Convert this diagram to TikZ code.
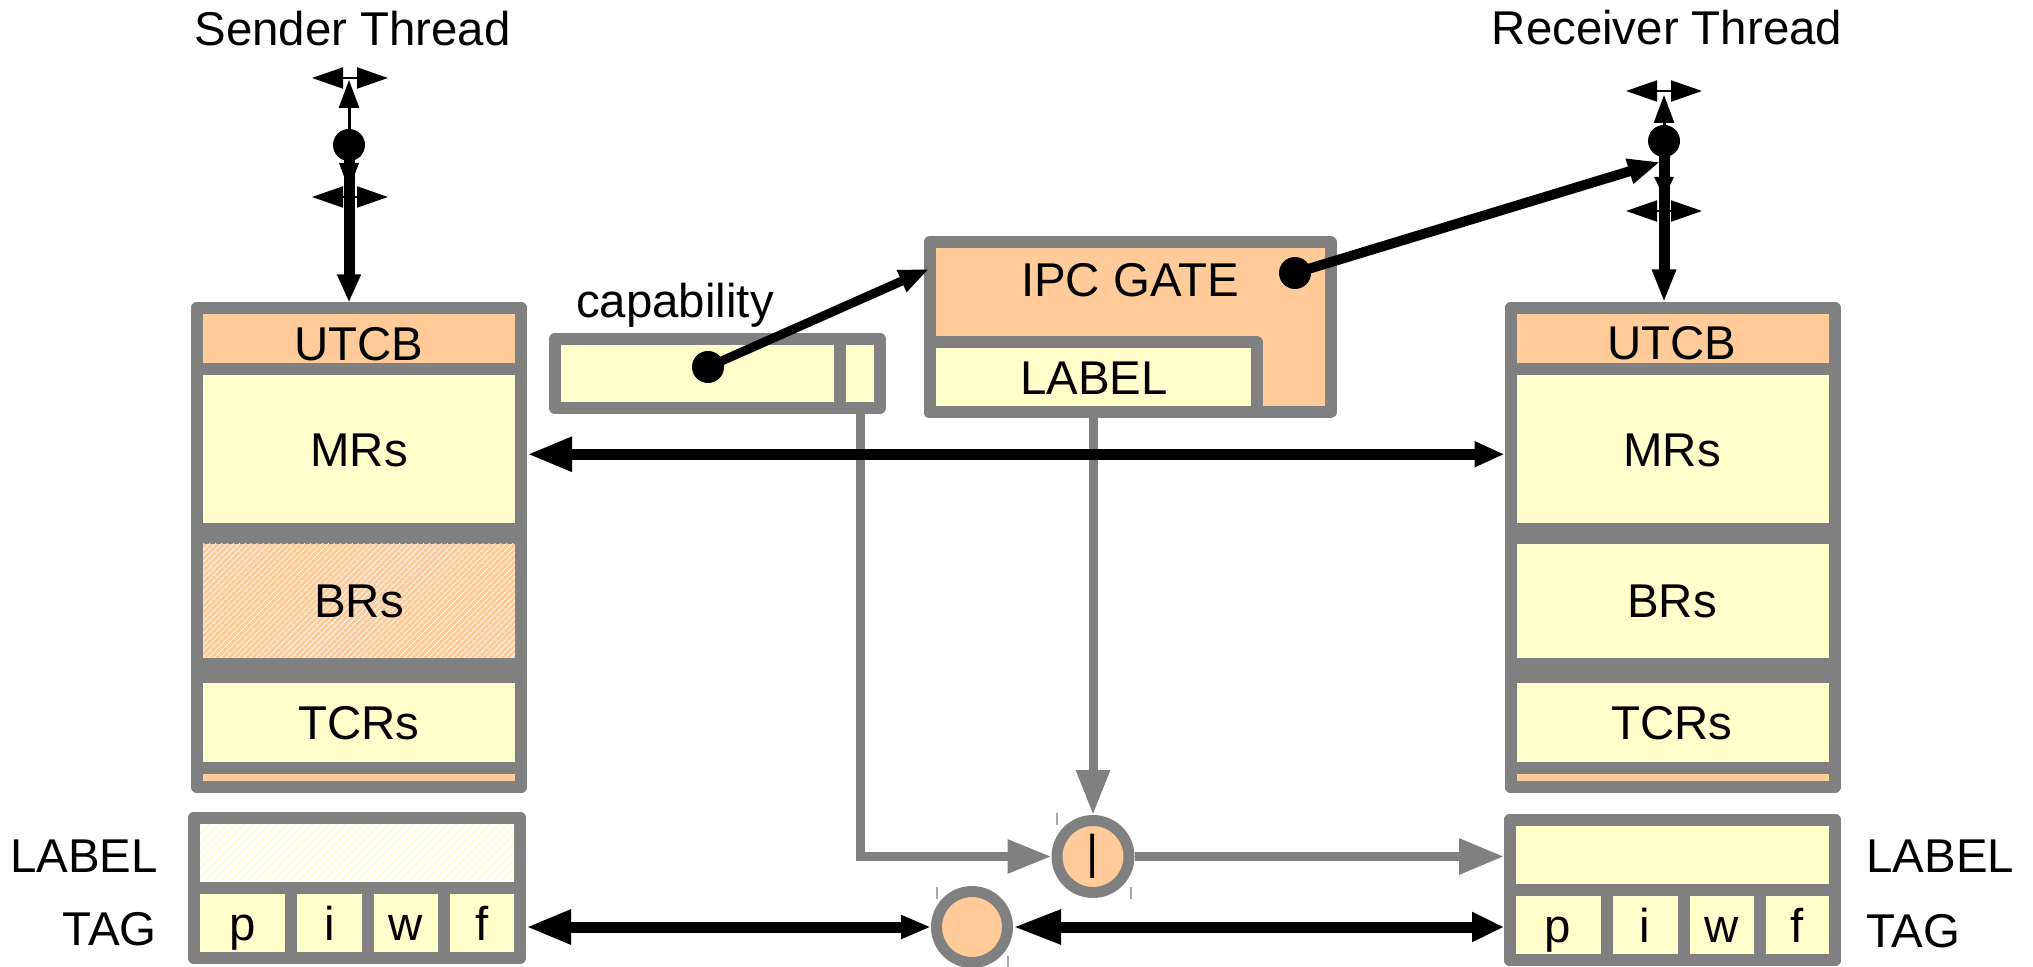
\documentclass[tikz,border=0pt]{standalone}
\usepackage{fontspec}
\setmainfont{Liberation Sans}
\usetikzlibrary{arrows.meta,fit,patterns.meta,calc}
\definecolor{cGray}{HTML}{808080}
\definecolor{cOr}{HTML}{FFCC99}
\definecolor{cYe}{HTML}{FFFFCC}
\definecolor{cHatch}{HTML}{FFFFC0}
\definecolor{cTick}{HTML}{A8A8A8}
\newcommand\dfont{\fontsize{23.7pt}{28pt}\selectfont}
\begin{document}
\begin{tikzpicture}[x=0.5pt,y=-0.5pt,
  cell/.style={draw=cGray, line width=6pt, line join=round, inner sep=0pt},
  orbox/.style={cell, fill=cOr},
  yebox/.style={cell, fill=cYe},
  back/.style={cell, fill=cGray},
  txt/.style={font=\dfont, inner sep=0pt, text=black},
  blk/.style={line width=5.5pt, draw=black},
  gy/.style={line width=4.5pt, draw=cGray},
  dot/.style={circle, fill=black, inner sep=0pt, minimum size=16pt},
  ring/.style={circle, draw=cGray, line width=5.5pt, fill=cOr, inner sep=0pt, minimum size=36pt, font=\dfont},
  tick/.style={draw=cTick, line width=0.6pt}
]
\path[use as bounding box] (0,0) rectangle (2033,967);

% ---------------- Sender column
\node[back, fit={(197,308.5)(521,786.5)}] (scol) {};
\node[orbox, fit={(197,308.5)(521,369)}] (sUTCB) {};
\node[yebox, fit={(197,369)(521,529.5)}] (sMR) {};
\node[orbox, fit={(197,537.5)(521,663.5)}] (sBR) {};
\fill[pattern={Lines[angle=45,distance=2.1pt,line width=0.35pt]}, pattern color=white] (203,543.5) rectangle (515,657.5);
\node[yebox, fit={(197,676.5)(521,767.5)}] (sTCR) {};
\node[orbox, fit={(197,767.5)(521,786.5)}] (sStrip) {};
\node[txt, anchor=base] (tsUTCB) at (359,361) {UTCB};
\node[txt, anchor=base] (tsMR) at (359,467) {MRs};
\node[txt, anchor=base] (tsBR) at (359,617) {BRs};
\node[txt, anchor=base] (tsTCR) at (359,739) {TCRs};

% ---------------- Receiver column
\node[back, fit={(1510.5,308.5)(1834.5,786.5)}] (rcol) {};
\node[orbox, fit={(1510.5,308.5)(1834.5,369)}] (rUTCB) {};
\node[yebox, fit={(1510.5,369)(1834.5,529.5)}] (rMR) {};
\node[yebox, fit={(1510.5,537.5)(1834.5,663.5)}] (rBR) {};
\node[yebox, fit={(1510.5,676.5)(1834.5,767.5)}] (rTCR) {};
\node[orbox, fit={(1510.5,767.5)(1834.5,786.5)}] (rStrip) {};
\node[txt, anchor=base] (trUTCB) at (1672,360) {UTCB};
\node[txt, anchor=base] (trMR) at (1672,467) {MRs};
\node[txt, anchor=base] (trBR) at (1672,617) {BRs};
\node[txt, anchor=base] (trTCR) at (1672,739) {TCRs};

% ---------------- Sender LABEL / TAG
\node[back, fit={(194,818)(520,957.5)}] (slow) {};
\node[cell, fill=white, fit={(194,818)(520,887.5)}] (sLab) {};
\fill[pattern={Lines[angle=45,distance=3pt,line width=0.5pt]}, pattern color=cHatch] (200,824) rectangle (514,881.5);
\node[yebox, fit={(194,887.5)(291,957.5)}] (sP) {};
\node[yebox, fit={(291,887.5)(368,957.5)}] (sI) {};
\node[yebox, fit={(368,887.5)(443.5,957.5)}] (sW) {};
\node[yebox, fit={(443.5,887.5)(520,957.5)}] (sF) {};
\node[txt, anchor=base] (tsP) at (242.5,940) {p};
\node[txt, anchor=base] (tsI) at (329.5,940) {i};
\node[txt, anchor=base] (tsW) at (405.8,940) {w};
\node[txt, anchor=base] (tsF) at (481.8,940) {f};
\node[txt, anchor=base east] (tsLAB) at (158,872) {LABEL};
\node[txt, anchor=base east] (tsTAG) at (157,945) {TAG};

% ---------------- Receiver LABEL / TAG
\node[back, fit={(1510,820)(1835,960)}] (rlow) {};
\node[yebox, fit={(1510,820)(1835,890)}] (rLab) {};
\node[yebox, fit={(1510,890)(1606.5,960)}] (rP) {};
\node[yebox, fit={(1606.5,890)(1683.5,960)}] (rI) {};
\node[yebox, fit={(1683.5,890)(1759.5,960)}] (rW) {};
\node[yebox, fit={(1759.5,890)(1835,960)}] (rF) {};
\node[txt, anchor=base] (trP) at (1558,942) {p};
\node[txt, anchor=base] (trI) at (1645,942) {i};
\node[txt, anchor=base] (trW) at (1721.5,942) {w};
\node[txt, anchor=base] (trF) at (1797.5,942) {f};
\node[txt, anchor=base west] (trLAB) at (1866,872) {LABEL};
\node[txt, anchor=base west] (trTAG) at (1866,947) {TAG};

% ---------------- IPC gate and capability
\node[orbox, fit={(929.5,242.5)(1330.5,412.5)}] (gate) {};
\node[yebox, fit={(929.5,342.5)(1256.5,412.5)}] (gateLab) {};
\node[txt, anchor=base] (tgate) at (1130,297) {IPC GATE};
\node[txt, anchor=base] (tgateLab) at (1094,395) {LABEL};
\node[yebox, fit={(555,339)(840,408)}] (cap) {};
\node[yebox, fit={(840,339)(880,408)}] (capSmall) {};
\node[txt, anchor=base] (tcap) at (675,318) {capability};

% ---------------- titles
\node[txt, anchor=base] (tsend) at (352.5,46) {Sender Thread};
\node[txt, anchor=base] (trecv) at (1667,45) {Receiver Thread};

% ---------------- circles
\node[ring] (orC) at (1093,856.5) {|};
\node[ring, minimum size=35.5pt] (tagC) at (972,927) {};
\draw[tick] (1057,813) -- (1057,825);
\draw[tick] (1131,887) -- (1131,899);
\draw[tick] (937,887) -- (937,899);
\draw[tick] (1008,956) -- (1008,967);

% ---------------- gray connectors
\draw[gy, -{Triangle[length=22pt,width=16pt]}] (capSmall.south) |- (orC.west);
\draw[gy, -{Triangle[length=22.5pt,width=16pt]}] (gateLab.south) -- (orC.north);
\draw[gy, -{Triangle[length=22.5pt,width=17pt]}] (orC.east) -- (orC.east -| rLab.west);

% ---------------- black connectors
\draw[blk, {Triangle[length=22.5pt,width=16pt]}-{Triangle[length=15pt,width=12pt]}] ([yshift=-2.5pt]sMR.east) -- ([yshift=-2.5pt]rMR.west);
\draw[blk, {Triangle[length=22.5pt,width=16pt]}-{Triangle[length=15pt,width=11pt]}] (sF.east |- tagC) -- (tagC.west);
\draw[blk, {Triangle[length=24pt,width=16pt]}-{Triangle[length=16pt,width=14pt]}] (tagC.east) -- (rP.west |- tagC);

% ---------------- dots
\node[dot] (capDot) at (708,367) {};
\node[dot] (gateDot) at (1295,273) {};
\node[dot] (sDot) at (349,145) {};
\node[dot] (rDot) at (1664,141) {};
\coordinate (gateIn) at (929,269);
\coordinate (rIn) at (1660,162);
\draw[line width=4.5pt, -{Triangle[length=15pt,width=11pt]}] (capDot.center) -- (gateIn);
\draw[line width=5pt, -{Triangle[length=16pt,width=12pt]}] (gateDot.center) -- (rIn);

% ---------------- sender thread arrows
\coordinate (sTop) at (349,80);
\coordinate (sHa) at (312,78);
\coordinate (sHb) at (388,78);
\coordinate (sHc) at (312,197);
\coordinate (sHd) at (388,197);
\draw[line width=1.5pt, -{Triangle[length=14pt,width=10pt]}] (sDot) -- (sTop);
\draw[line width=5.5pt, -{Triangle[length=14pt,width=11pt]}] (sDot.center) -- (sDot |- sUTCB.north);
\fill (339,163) -- (359,163) -- (349,190) -- cycle;
\draw[line width=1pt, {Triangle[length=15.5pt,width=10.5pt]}-{Triangle[length=15.5pt,width=10.5pt]}] (sHa) -- (sHb);
\draw[line width=1pt, {Triangle[length=15.5pt,width=10.5pt]}-{Triangle[length=15.5pt,width=10.5pt]}] (sHc) -- (sHd);

% ---------------- receiver thread arrows
\coordinate (rTop) at (1664,95);
\coordinate (rHa) at (1626,91);
\coordinate (rHb) at (1702,91);
\coordinate (rHc) at (1626,211);
\coordinate (rHd) at (1702,211);
\draw[line width=1.5pt, -{Triangle[length=14pt,width=10pt]}] (rDot) -- (rTop);
\draw[line width=5.5pt, -{Triangle[length=16.5pt,width=11pt]}] (rDot.center) -- (rDot |- rUTCB.north);
\fill (1654,177) -- (1674,177) -- (1664,197) -- cycle;
\draw[line width=1pt, {Triangle[length=15.5pt,width=10.5pt]}-{Triangle[length=15.5pt,width=10.5pt]}] (rHa) -- (rHb);
\draw[line width=1pt, {Triangle[length=15.5pt,width=10.5pt]}-{Triangle[length=15.5pt,width=10.5pt]}] (rHc) -- (rHd);
\end{tikzpicture}
\end{document}
